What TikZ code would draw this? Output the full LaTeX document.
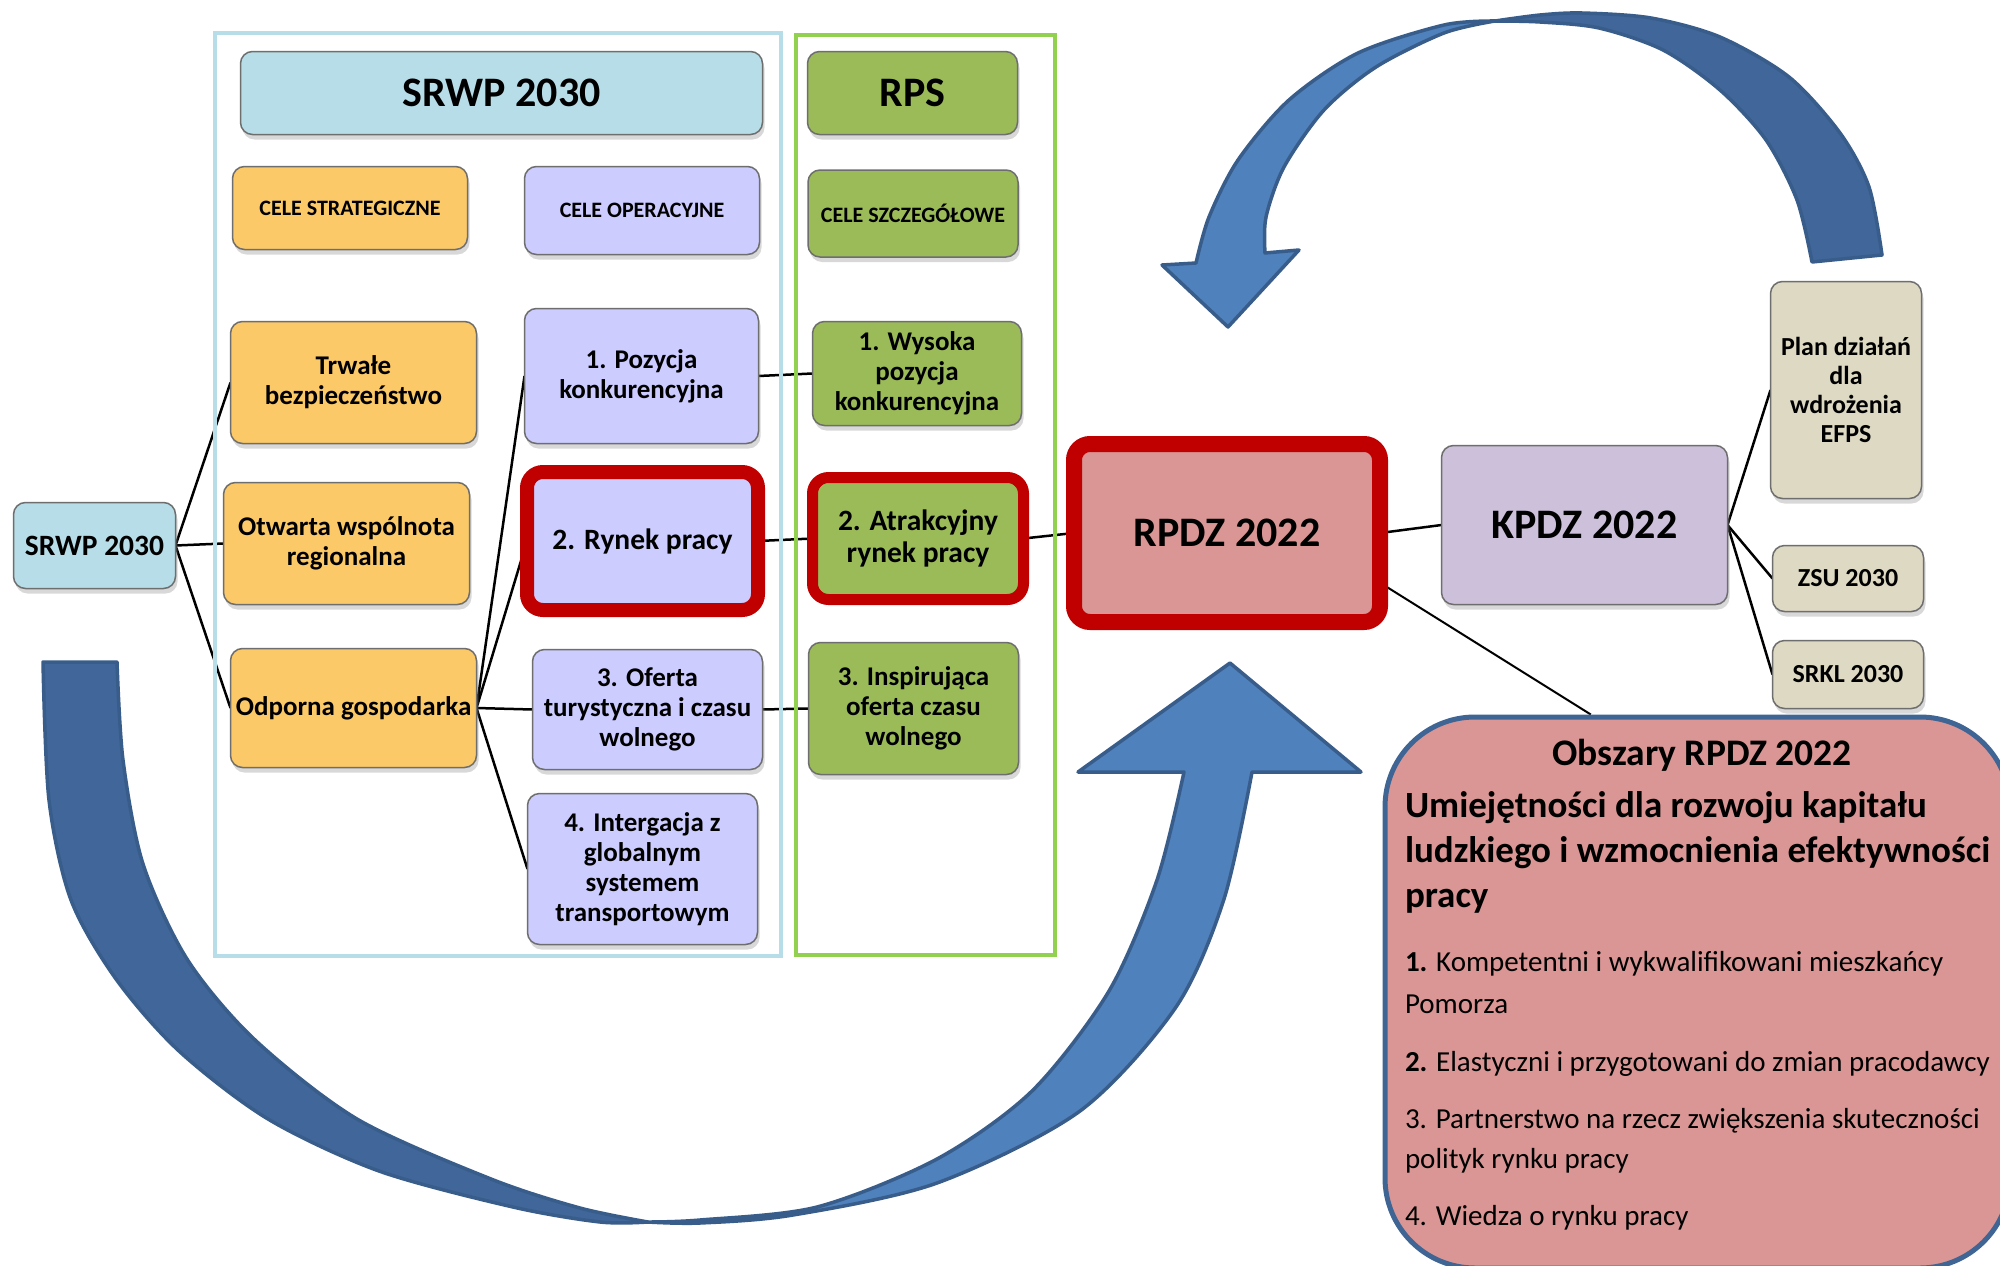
\documentclass[tikz,border=0pt]{standalone}
\usepackage{fontspec}
\setmainfont{Carlito}
\usetikzlibrary{shadows}
\definecolor{cLblue}{HTML}{B7DEE8}
\definecolor{cFrameB}{HTML}{B7DEE8}
\definecolor{cOrange}{HTML}{FBC967}
\definecolor{cLav}{HTML}{CCCCFF}
\definecolor{cGreen}{HTML}{9BBB59}
\definecolor{cFrameG}{HTML}{92D050}
\definecolor{cRed}{HTML}{C00000}
\definecolor{cRose}{HTML}{D99694}
\definecolor{cMauve}{HTML}{CCC0DA}
\definecolor{cTan}{HTML}{DDD9C3}
\definecolor{cBorder}{HTML}{6E6E6E}
\definecolor{cArrL}{HTML}{4F81BD}
\definecolor{cArrD}{HTML}{41679A}
\definecolor{cArrE}{HTML}{385D8A}
\definecolor{cObsE}{HTML}{3F6595}
\pgfdeclarelayer{arrowlayer}
\pgfdeclarelayer{linklayer}
\pgfdeclarelayer{framelayer}
\pgfsetlayers{arrowlayer,linklayer,framelayer,main}
\newcommand\fsz[2]{\fontsize{#1}{#2}\selectfont}
\begin{document}
\begin{tikzpicture}[x=1pt,y=-1pt,
  box/.style={rectangle, rounded corners=12pt, draw=cBorder, line width=1.5pt, align=center,
    inner sep=0pt, outer sep=0pt, font=\bfseries\fsz{27}{30},
    drop shadow={shadow xshift=2pt,shadow yshift=-5pt,opacity=0.3}},
  hot/.style={draw=cRed, rounded corners=16pt},
  hotfont/.style={font=\bfseries\fsz{29.5}{32}},
  link/.style={line width=2.5pt, black},
  txt/.style={inner sep=0pt, outer sep=0pt, anchor=base west},
  arrL/.style={fill=cArrL, draw=cArrE, line width=3.5pt, line join=round},
  arrD/.style={fill=cArrD, draw=cArrE, line width=3.5pt, line join=round},
  big/.style={font=\bfseries\fsz{42}{48}},
  small/.style={font=\bfseries\fsz{22}{26}},
  tan/.style={fill=cTan, font=\bfseries\fsz{26}{29}},
  item/.style={txt, font=\fsz{29}{41}},
  head/.style={txt, font=\bfseries\fsz{37}{45}}
]
\useasboundingbox (0,0) rectangle (2000,1266);

% ---------- boxes ----------
\node[box, big, fill=cLblue, minimum width=522pt, minimum height=83pt] (hdrS) at (501.5,93) {SRWP 2030};
\node[box, big, fill=cGreen, minimum width=210pt, minimum height=83pt] (hdrR) at (912.5,93) {RPS};
\node[box, small, fill=cOrange, minimum width=235pt, minimum height=83pt] (celeS) at (350,208) {CELE STRATEGICZNE};
\node[box, small, fill=cLav, minimum width=235pt, minimum height=88pt] (celeO) at (642,210.5) {CELE OPERACYJNE};
\node[box, small, fill=cGreen, minimum width=210pt, minimum height=87pt] (celeZ) at (913,213.5) {CELE SZCZEGÓŁOWE};

\node[box, fill=cOrange, minimum width=246pt, minimum height=122pt] (trw) at (353.5,382.5) {Trwałe\\bezpieczeństwo};
\node[box, fill=cOrange, minimum width=246pt, minimum height=122pt] (otw) at (346.5,543.5) {Otwarta wspólnota\\regionalna};
\node[box, fill=cOrange, minimum width=246pt, minimum height=119pt] (odp) at (353.5,708) {Odporna gospodarka};
\node[box, fill=cLblue, font=\bfseries\fsz{29.5}{34}, minimum width=162pt, minimum height=86pt] (srwp) at (94.5,545.5) {SRWP 2030};

\node[box, fill=cLav, minimum width=234pt, minimum height=135pt] (poz) at (641.5,376) {1. Pozycja\\konkurencyjna};
\node[box, hot, hotfont, fill=cLav, line width=14pt, minimum width=231pt, minimum height=138pt] (ryn) at (642.5,541) {2. Rynek pracy};
\node[box, fill=cLav, minimum width=230pt, minimum height=120pt] (ofe) at (647.5,709.5) {3. Oferta\\turystyczna i czasu\\wolnego};
\node[box, fill=cLav, minimum width=230pt, minimum height=151pt] (intg) at (642.5,869) {4. Intergacja z\\globalnym\\systemem\\transportowym};

\node[box, fill=cGreen, minimum width=209pt, minimum height=104pt] (wys) at (917,373.5) {1. Wysoka\\pozycja\\konkurencyjna};
\node[box, hot, hotfont, fill=cGreen, line width=11pt, minimum width=211pt, minimum height=122pt] (atr) at (918,538.5) {2. Atrakcyjny\\rynek pracy};
\node[box, fill=cGreen, minimum width=210pt, minimum height=132pt] (ins) at (913.5,708.5) {3. Inspirująca\\oferta czasu\\wolnego};

\node[box, hot, big, fill=cRose, line width=16pt, minimum width=306pt, minimum height=178pt] (rpdz) at (1227,533) {RPDZ 2022};
\node[box, big, fill=cMauve, minimum width=286pt, minimum height=159pt] (kpdz) at (1584.5,525) {KPDZ 2022};
\node[box, tan, minimum width=151pt, minimum height=217pt] (plan) at (1846,390) {Plan działań\\dla\\wdrożenia\\EFPS};
\node[box, tan, minimum width=151pt, minimum height=66pt] (zsu) at (1848,578.5) {ZSU 2030};
\node[box, tan, minimum width=151pt, minimum height=68pt] (srkl) at (1848,674.5) {SRKL 2030};

% ---------- Obszary box ----------
\node[rectangle, rounded corners=90pt, draw=cObsE, line width=5pt, fill=cRose,
  minimum width=625pt, minimum height=551pt, inner sep=0pt] (obs) at (1697.5,992.5) {};
\node[inner sep=0pt, anchor=base, font=\bfseries\fsz{37.5}{43}] (obsT) at (1702,765) {Obszary RPDZ 2022};
\node[head] (h1) at (1405,817) {Umiejętności dla rozwoju kapitału};
\node[head] (h2) at (1405,862) {ludzkiego i wzmocnienia efektywności};
\node[head] (h3) at (1405,907) {pracy};
\node[item] (i1a) at (1405,971) {\textbf{1.} Kompetentni i wykwalifikowani mieszkańcy};
\node[item] (i1b) at (1405,1013) {Pomorza};
\node[item] (i2) at (1405,1071) {\textbf{2.} Elastyczni i przygotowani do zmian pracodawcy};
\node[item] (i3a) at (1405,1128) {3. Partnerstwo na rzecz zwiększenia skuteczności};
\node[item] (i3b) at (1405,1168) {polityk rynku pracy};
\node[item] (i4) at (1405,1225) {4. Wiedza o rynku pracy};

% ---------- connectors ----------
\begin{pgfonlayer}{linklayer}
\draw[link] (srwp.east) -- (trw.west);
\draw[link] (srwp.east) -- (otw.west);
\draw[link] (srwp.east) -- (odp.west);
\draw[link] (odp.east) -- (poz.west);
\draw[link] (odp.east) -- (ryn.west);
\draw[link] (odp.east) -- (ofe.west);
\draw[link] (odp.east) -- (intg.west);
\draw[link] (poz.east) -- (wys.west);
\draw[link] (ryn.east) -- (atr.west);
\draw[link] (ofe.east) -- (ins.west);
\draw[link] (atr.east) -- (rpdz.west);
\draw[link] (rpdz.east) -- (kpdz.west);
\draw[link, line width=2pt] (rpdz.-18.5) -- (obs.111);
\draw[link] (kpdz.east) -- (plan.west);
\draw[link] (kpdz.east) -- (zsu.west);
\draw[link] (kpdz.east) -- (srkl.west);
\end{pgfonlayer}

% ---------- frames ----------
\begin{pgfonlayer}{framelayer}
\draw[cFrameB, line width=4pt] (215,33) rectangle (781,956);
\draw[cFrameG, line width=4pt] (796,35) rectangle (1055,955);
\end{pgfonlayer}

% ---------- big curved arrows ----------
\begin{pgfonlayer}{arrowlayer}
\fill[white] (0,0) rectangle (2000,1266);
% top arrow, back (dark) part
\filldraw[arrD] plot[smooth] coordinates {(1812,262) (1797,200) (1766,140) (1720,90) (1663,50) (1599,28) (1540,22) (1495,21)}
  -- plot[smooth] coordinates {(1495,21) (1540,15) (1582,13) (1651,18) (1720,37) (1789,77) (1840,133) (1869,187) (1882,255)} -- cycle;
% top arrow, front (light) part with head
\filldraw[arrL] plot[smooth] coordinates {(1495,21) (1444,25) (1358,53) (1289,100) (1238,160) (1209,217) (1196,263)}
  -- (1162,265) -- (1228,327) -- (1299,250) -- (1265,253)
  -- plot[smooth] coordinates {(1265,253) (1266,217) (1284,167) (1324,110) (1376,67) (1444,33) (1495,21)} -- cycle;
% bottom arrow, back (dark) part
\filldraw[arrD] plot[smooth] coordinates {(117,662) (123,760) (143,864) (187,959) (254,1039) (357,1119) (491,1179) (580,1208) (648,1222)}
  -- plot[smooth] coordinates {(648,1222) (600,1222) (513,1207) (379,1171) (268,1119) (179,1051) (116,979) (71,900) (49,800) (43,662)} -- cycle;
% bottom arrow, front (light) part with head
\filldraw[arrL] plot[smooth] coordinates {(648,1222) (700,1223) (793,1215) (937,1183) (1080,1111) (1176,1007) (1224,899) (1252,772)}
  -- (1361,772) -- (1230,663) -- (1078,772) -- (1184,772)
  -- plot[smooth] coordinates {(1184,772) (1157,880) (1109,991) (1032,1091) (937,1159) (817,1207) (700,1220) (648,1222)} -- cycle;
\end{pgfonlayer}
\end{tikzpicture}
\end{document}
